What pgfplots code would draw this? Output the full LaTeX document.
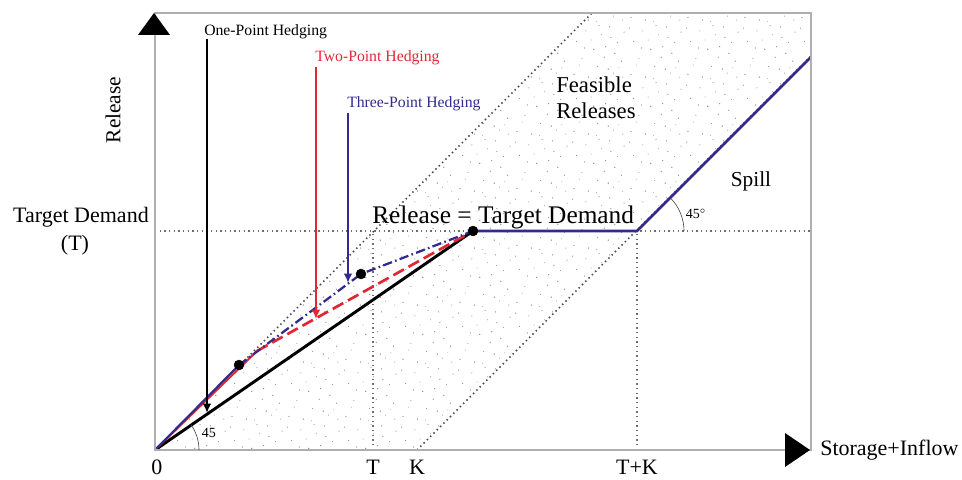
\documentclass[border=0pt]{standalone}
\usepackage{fontspec}
\setmainfont{Liberation Serif}
\usepackage{pgfplots}
\pgfplotsset{compat=1.18}
\usetikzlibrary{patterns,arrows.meta}

\definecolor{hedgeblue}{RGB}{50,42,140}
\definecolor{hedgered}{RGB}{224,40,52}
\definecolor{framegray}{RGB}{175,175,175}
\definecolor{dotgray}{RGB}{110,110,110}

% sparse, irregular stipple for the feasible-release band
\pgfdeclarepatternformonly{stipple}{\pgfqpoint{0pt}{0pt}}{\pgfqpoint{43pt}{43pt}}{\pgfqpoint{43pt}{43pt}}{%
  \pgfpathcircle{\pgfqpoint{3pt}{5pt}}{0.5pt}
  \pgfpathcircle{\pgfqpoint{9pt}{17pt}}{0.4pt}
  \pgfpathcircle{\pgfqpoint{14pt}{3pt}}{0.55pt}
  \pgfpathcircle{\pgfqpoint{21pt}{11pt}}{0.4pt}
  \pgfpathcircle{\pgfqpoint{27pt}{26pt}}{0.5pt}
  \pgfpathcircle{\pgfqpoint{33pt}{6pt}}{0.35pt}
  \pgfpathcircle{\pgfqpoint{39pt}{15pt}}{0.5pt}
  \pgfpathcircle{\pgfqpoint{5pt}{30pt}}{0.45pt}
  \pgfpathcircle{\pgfqpoint{12pt}{38pt}}{0.4pt}
  \pgfpathcircle{\pgfqpoint{18pt}{24pt}}{0.55pt}
  \pgfpathcircle{\pgfqpoint{24pt}{35pt}}{0.4pt}
  \pgfpathcircle{\pgfqpoint{30pt}{41pt}}{0.5pt}
  \pgfpathcircle{\pgfqpoint{36pt}{29pt}}{0.4pt}
  \pgfpathcircle{\pgfqpoint{41pt}{37pt}}{0.45pt}
  \pgfpathcircle{\pgfqpoint{7pt}{12pt}}{0.35pt}
  \pgfpathcircle{\pgfqpoint{16pt}{31pt}}{0.4pt}
  \pgfpathcircle{\pgfqpoint{26pt}{18pt}}{0.45pt}
  \pgfpathcircle{\pgfqpoint{34pt}{21pt}}{0.5pt}
  \pgfpathcircle{\pgfqpoint{40pt}{3pt}}{0.4pt}
  \pgfpathcircle{\pgfqpoint{2pt}{40pt}}{0.45pt}
  \pgfpathcircle{\pgfqpoint{20pt}{2pt}}{0.35pt}
  \pgfpathcircle{\pgfqpoint{29pt}{9pt}}{0.5pt}
  \pgfpathcircle{\pgfqpoint{11pt}{25pt}}{0.45pt}
  \pgfpathcircle{\pgfqpoint{37pt}{10pt}}{0.35pt}
  \pgfpathcircle{\pgfqpoint{22pt}{42pt}}{0.4pt}
  \pgfpathcircle{\pgfqpoint{31pt}{33pt}}{0.5pt}
  \pgfusepath{fill}}

\begin{document}
\begin{tikzpicture}
\begin{axis}[
  hide axis,
  x=0.75pt, y=0.75pt,
  xmin=0, xmax=656, ymin=0, ymax=437,
  clip=false,
]
% overall extent of the figure
\path (axis cs:-155,-29) rectangle (axis cs:807,450);

% feasible releases band
\addplot[draw=none, pattern=stipple, pattern color=black!45]
  coordinates {(262,0) (656,394) (656,437) (437,437) (0,0)} \closedcycle;

% guide lines
\addplot[dotgray, line width=1.2pt, dash pattern=on 1.1pt off 2.4pt] coordinates {(0,219) (656,219)};
\addplot[dotgray, line width=1.2pt, dash pattern=on 1.1pt off 2.4pt] coordinates {(218,0) (218,219)};
\addplot[dotgray, line width=1.2pt, dash pattern=on 1.1pt off 2.4pt] coordinates {(482,0) (482,219)};
\addplot[black!70, line width=1.2pt, dash pattern=on 1.1pt off 2.4pt] coordinates {(0,0) (437,437)};
\addplot[black!70, line width=1.2pt, dash pattern=on 1.1pt off 2.4pt] coordinates {(262,0) (656,394)};

% one-point hedging
\addplot[black, line width=2.2pt] coordinates {(0,0) (318,219)};

% two-point hedging
\addplot[hedgered, line width=1.5pt] coordinates {(0,0) (102,99)};
\addplot[hedgered, line width=2pt, dash pattern=on 9pt off 4pt] coordinates {(102,99) (318,219)};

% three-point hedging
\addplot[hedgeblue, line width=1.6pt] coordinates {(0,0) (84,85)};
\addplot[hedgeblue, line width=1.7pt, dash pattern=on 7pt off 2.5pt on 1.2pt off 2.5pt] coordinates {(84,85) (206,176) (318,219)};

% release = demand, then spill
\addplot[hedgeblue, line width=1.9pt] coordinates {(318,219) (482,219) (656,393)};

% hedging points
\addplot[only marks, mark=*, mark size=3.7pt, black] coordinates {(84,85) (206,176) (318,219)};

% pointers to each rule
\addplot[black, line width=1.9pt, -{Latex[length=7pt,width=6.5pt]}] coordinates {(52,411) (52,37)};
\addplot[hedgered, line width=2.1pt, -{Latex[length=7pt,width=6.5pt]}] coordinates {(161,383) (161,131)};
\addplot[hedgeblue, line width=2.1pt, -{Latex[length=7pt,width=6.5pt]}] coordinates {(193,337) (193,167)};

% frame and axis arrows
\draw[framegray, line width=0.9pt] (axis cs:0,0) rectangle (axis cs:656,437);
\fill[black] (axis cs:-17,415) -- (axis cs:15,415) -- (axis cs:-1,437) -- cycle;
\fill[black] (axis cs:630,17) -- (axis cs:630,-17) -- (axis cs:655,0) -- cycle;

% angle marks
\draw[black!70, line width=0.5pt] (axis cs:529,219) arc[start angle=0, end angle=45, radius=35.25pt];
\draw[black!70, line width=0.5pt] (axis cs:44,0) arc[start angle=0, end angle=34.6, radius=33pt];

% texts
\node[inner sep=0, rotate=90, font=\fontsize{16}{19}\selectfont] at (axis cs:-42,340) {Release};
\node[inner sep=0, font=\fontsize{16.5}{19}\selectfont] at (axis cs:-74,233) {Target Demand};
\node[inner sep=0, font=\fontsize{16.5}{19}\selectfont] at (axis cs:-80,205) {(T)};
\node[inner sep=0, font=\fontsize{16.5}{19}\selectfont] at (axis cs:2,-17) {0};
\node[inner sep=0, font=\fontsize{16.5}{19}\selectfont] at (axis cs:218,-17) {T};
\node[inner sep=0, font=\fontsize{16.5}{19}\selectfont] at (axis cs:262,-17) {K};
\node[inner sep=0, font=\fontsize{16.5}{19}\selectfont] at (axis cs:482,-17) {T+K};
\node[inner sep=0, anchor=west, font=\fontsize{16.5}{19}\selectfont] at (axis cs:665,0) {Storage+Inflow};

\node[inner sep=0, anchor=west, font=\fontsize{11.8}{14}\selectfont] at (axis cs:49,418) {One-Point Hedging};
\node[inner sep=0, anchor=west, text=hedgered, font=\fontsize{11.8}{14}\selectfont] at (axis cs:160,392) {Two-Point Hedging};
\node[inner sep=0, anchor=west, text=hedgeblue, font=\fontsize{11.8}{14}\selectfont] at (axis cs:192,346) {Three-Point Hedging};

\node[inner sep=0, anchor=west, font=\fontsize{19}{22}\selectfont] at (axis cs:217,233) {Release = Target Demand};
\node[inner sep=0, anchor=west, font=\fontsize{17}{20}\selectfont] at (axis cs:401,365) {Feasible};
\node[inner sep=0, anchor=west, font=\fontsize{17}{20}\selectfont] at (axis cs:401,339) {Releases};
\node[inner sep=0, font=\fontsize{16}{19}\selectfont] at (axis cs:596,269) {Spill};
\node[inner sep=0, font=\fontsize{10.5}{12}\selectfont] at (axis cs:541,236) {45$^{\circ}$};
\node[inner sep=0, font=\fontsize{10.5}{12}\selectfont] at (axis cs:54,17) {45};
\end{axis}
\end{tikzpicture}
\end{document}
